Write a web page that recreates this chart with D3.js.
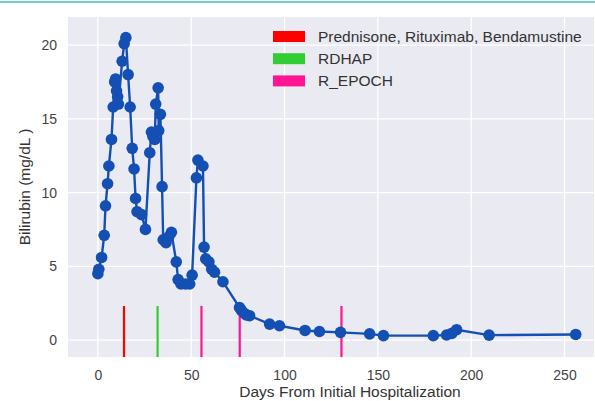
<!DOCTYPE html>
<html>
<head>
<meta charset="utf-8">
<script src="https://cdn.jsdelivr.net/npm/d3@7"></script>
<style>
  body { margin: 0; background: #fff; }
  svg { display: block; font-family: "Liberation Sans", Arial, sans-serif; }
</style>
</head>
<body>
<div class="board"></div>
<script>
// bilirubin readings, days since first admission
var days = [0, 0.5, 2, 3.4, 4.1, 5.2, 5.9, 7.3, 8.2, 9.0, 9.5, 10.0, 10.6, 11.0,
  13.0, 14.1, 15.0, 16.2, 17.3, 18.4, 19.4, 20.2, 21.0, 23.4, 25.5,
  27.8, 28.7, 29.5, 30.5, 31.0, 32.3, 32.6, 33.5, 34.4, 35.0, 36.5, 38.0, 39.4,
  42.0, 43.0, 44.5, 47.0, 49.2, 50.5, 52.8, 53.6, 56.3, 56.9, 57.8, 59.5, 61.0, 62.5,
  67.0, 75.9, 77.0, 78.6, 79.5, 81.3, 92.0, 97.3, 111.0, 118.7, 130.0,
  145.6, 153.0, 179.7, 186.8, 189.6, 192.2, 209.6, 256.0];
var bili = [4.5, 4.8, 5.6, 7.1, 9.1, 10.6, 11.8, 13.6, 15.8, 17.5, 17.7, 16.9, 16.5, 16.0,
  18.9, 20.1, 20.5, 18.0, 15.8, 13.0, 11.6, 9.6, 8.7, 8.5, 7.5,
  12.7, 14.1, 13.8, 13.6, 16.0, 17.1, 14.2, 15.3, 10.4, 6.8, 6.6, 7.0, 7.3,
  5.3, 4.1, 3.8, 3.8, 3.8, 4.4, 11.0, 12.2, 11.8, 6.3, 5.5, 5.3, 4.8, 4.6,
  3.95, 2.2, 2.0, 1.8, 1.7, 1.65, 1.08, 0.97, 0.65, 0.58, 0.52,
  0.42, 0.3, 0.3, 0.34, 0.45, 0.7, 0.33, 0.38];

// treatment start days
var treatDays = [14, 32, 55.5, 76, 130.5];
var treatName = ["Prednisone, Rituximab, Bendamustine", "RDHAP", "R_EPOCH", "R_EPOCH", "R_EPOCH"];
var legendNames = ["Prednisone, Rituximab, Bendamustine", "RDHAP", "R_EPOCH"];
var legendColors = ["#ff0000", "#32cd32", "#ff1493"];

var xTicks = [0, 50, 100, 150, 200, 250];
var yTicks = [0, 5, 10, 15, 20];

var W = 595, H = 401;
var plot = { left: 68, right: 594, top: 17, bottom: 357 };

var svg = d3.select(".board").append("svg")
  .attr("width", W)
  .attr("height", H);

// thin teal rule across the top
svg.append("line")
  .attr("x1", 0).attr("x2", W)
  .attr("y1", 2).attr("y2", 2)
  .attr("stroke", "#3fc4ab")
  .attr("stroke-width", 1.5);

var x = d3.scaleLinear().domain([-16.0, 265.8]).range([plot.left, plot.right]);
var y = d3.scaleLinear().domain([-1.15, 21.9]).range([plot.bottom, plot.top]);
var color = d3.scaleOrdinal().domain(legendNames).range(legendColors);

svg.append("rect")
  .attr("x", plot.left).attr("y", plot.top)
  .attr("width", plot.right - plot.left)
  .attr("height", plot.bottom - plot.top)
  .attr("fill", "#eaeaf2");

// grid
svg.append("g").selectAll("line").data(xTicks)
  .enter().append("line")
  .attr("x1", function(d) { return x(d); })
  .attr("x2", function(d) { return x(d); })
  .attr("y1", plot.top).attr("y2", plot.bottom)
  .attr("stroke", "#fff").attr("stroke-width", 1.3);

svg.append("g").selectAll("line").data(yTicks)
  .enter().append("line")
  .attr("y1", function(d) { return y(d); })
  .attr("y2", function(d) { return y(d); })
  .attr("x1", plot.left).attr("x2", plot.right)
  .attr("stroke", "#fff").attr("stroke-width", 1.3);

// axes (labels only, no domain line)
var xAxis = svg.append("g")
  .attr("transform", "translate(0," + plot.bottom + ")")
  .call(d3.axisBottom(x).tickValues(xTicks).tickSize(0).tickPadding(13));
var yAxis = svg.append("g")
  .attr("transform", "translate(" + plot.left + ",0)")
  .call(d3.axisLeft(y).tickValues(yTicks).tickSize(0).tickPadding(11));
[xAxis, yAxis].forEach(function(a) {
  a.select(".domain").remove();
  a.selectAll("text").attr("fill", "#444").style("font-size", "14px")
    .style("font-family", "Liberation Sans, Arial, sans-serif");
});

// sits right at the bottom edge like the original
svg.append("text")
  .attr("x", 350)
  .attr("y", 397)
  .attr("text-anchor", "middle")
  .attr("fill", "#333")
  .style("font-size", "15.5px")
  .text("Days From Initial Hospitalization");

svg.append("text")
  .attr("transform", "translate(30," + ((plot.top + plot.bottom) / 2) + ") rotate(-90)")
  .attr("text-anchor", "middle")
  .attr("fill", "#333")
  .style("font-size", "15.5px")
  .text("Bilirubin (mg/dL )");

// treatment markers, bottom 15% of the axes
var markTop = plot.bottom - 0.15 * (plot.bottom - plot.top);
svg.append("g").selectAll("line").data(treatDays)
  .enter().append("line")
  .attr("x1", function(d) { return x(d); })
  .attr("x2", function(d) { return x(d); })
  .attr("y1", plot.bottom).attr("y2", markTop)
  .attr("stroke", function(d, i) { return color(treatName[i]); })
  .attr("stroke-width", 2.2);

// series
var pts = days.map(function(d, i) { return { day: d, v: bili[i] }; });
var line = d3.line()
  .x(function(d) { return x(d.day); })
  .y(function(d) { return y(d.v); });

svg.append("path")
  .datum(pts)
  .attr("d", line)
  .attr("fill", "none")
  .attr("stroke", "#1450b4")
  .attr("stroke-width", 2.4);

svg.append("g").selectAll("circle").data(pts)
  .enter().append("circle")
  .attr("cx", function(d) { return x(d.day); })
  .attr("cy", function(d) { return y(d.v); })
  .attr("r", 5.8)
  .attr("fill", "#1450b4");

// legend
var leg = svg.append("g").selectAll("g").data(legendNames)
  .enter().append("g")
  .attr("transform", function(d, i) { return "translate(273," + (31 + i * 22.2) + ")"; });
leg.append("rect")
  .attr("width", 32).attr("height", 11)
  .attr("fill", function(d) { return color(d); });
leg.append("text")
  .attr("x", 45).attr("y", 5.5)
  .attr("dy", "0.35em")
  .attr("fill", "#333")
  .style("font-size", "15.5px")
  .text(function(d) { return d; });
</script>
</body>
</html>
